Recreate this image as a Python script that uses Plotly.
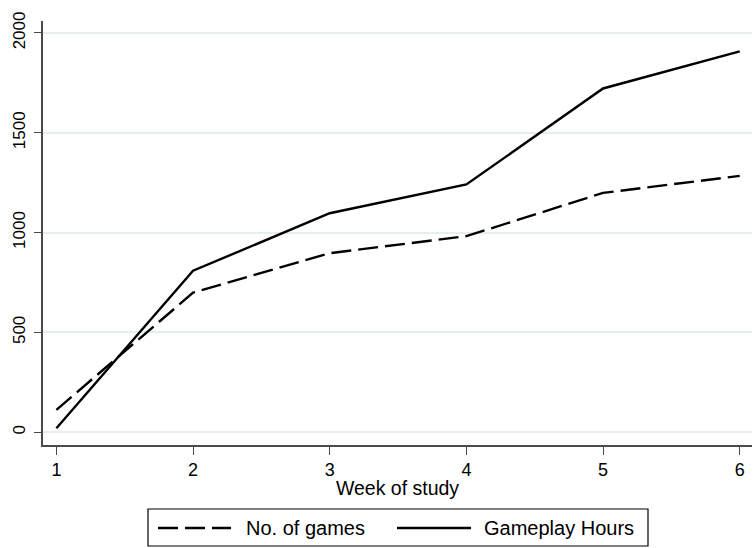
import plotly.graph_objects as go

weeks = [1, 2, 3, 4, 5, 6]
games = [112, 699, 897, 982, 1199, 1284]
hours = [20, 809, 1097, 1241, 1722, 1908]
series_names = ["No. of games", "Gameplay Hours"]
y_ticks = [0, 500, 1000, 1500, 2000]
x_title = "Week of study"

FONT = "Liberation Sans, Arial, Helvetica, sans-serif"
AXIS_COLOR = "#4a4a4a"
GRID_COLOR = "#e6eff0"
DASH = "20px,7px"

fig = go.Figure()
fig.add_trace(go.Scatter(x=weeks, y=games, mode="lines", name=series_names[0],
                         line=dict(color="black", width=2.4, dash=DASH),
                         showlegend=False))
fig.add_trace(go.Scatter(x=weeks, y=hours, mode="lines", name=series_names[1],
                         line=dict(color="black", width=2.4),
                         showlegend=False))

# Manual legend (box, line samples, labels) below the plot
L, R, T, B = 43, 4, 21, 103
W, H = 756, 548
pw, ph = W - L - R, H - T - B

def px(x):
    return (x - L) / pw

def py(y):
    return (H - B - y) / ph

shapes = [
    dict(type="rect", xref="paper", yref="paper", x0=px(148), x1=px(648),
         y0=py(546), y1=py(509), line=dict(color="black", width=1.2),
         fillcolor="white"),
    dict(type="line", xref="paper", yref="paper", x0=px(158), x1=px(231),
         y0=py(528), y1=py(528), line=dict(color="black", width=2.4, dash=DASH)),
    dict(type="line", xref="paper", yref="paper", x0=px(397), x1=px(471),
         y0=py(528), y1=py(528), line=dict(color="black", width=2.4)),
]
annotations = [
    dict(xref="paper", yref="paper", x=px(244), y=py(528), text=series_names[0],
         showarrow=False, xanchor="left", yanchor="middle",
         font=dict(family=FONT, size=20, color="black")),
    dict(xref="paper", yref="paper", x=px(482), y=py(528), text=series_names[1],
         showarrow=False, xanchor="left", yanchor="middle",
         font=dict(family=FONT, size=20, color="black")),
]

fig.update_layout(
    width=W, height=H,
    margin=dict(l=L, r=R, t=T, b=B, autoexpand=False),
    paper_bgcolor="white", plot_bgcolor="white",
    font=dict(family=FONT, color="black"),
    shapes=shapes, annotations=annotations,
    showlegend=False,
)
fig.update_xaxes(
    range=[0.902, 6.09], tickvals=weeks, ticktext=[str(w) for w in weeks],
    showgrid=False, zeroline=False, automargin=False,
    showline=True, linecolor=AXIS_COLOR, linewidth=1.5,
    ticks="outside", ticklen=8, tickcolor=AXIS_COLOR, tickwidth=1.2,
    tickfont=dict(family=FONT, size=18, color="black"),
    title=dict(text=x_title, font=dict(family=FONT, size=19.5, color="black"), standoff=2),
)
fig.update_yaxes(
    range=[-64, 2060], tickvals=y_ticks, ticktext=[str(v) for v in y_ticks],
    showgrid=True, gridcolor=GRID_COLOR, gridwidth=1.5, zeroline=False, automargin=False,
    showline=True, linecolor=AXIS_COLOR, linewidth=1.5,
    ticks="outside", ticklen=7, tickcolor=AXIS_COLOR, tickwidth=1.2,
    tickangle=-90,
    tickfont=dict(family=FONT, size=17, color="black"),
    ticklabelstandoff=2,
)

fig.write_html("out.html", config={"displayModeBar": False},
               post_script="document.body.style.margin='0px';")
